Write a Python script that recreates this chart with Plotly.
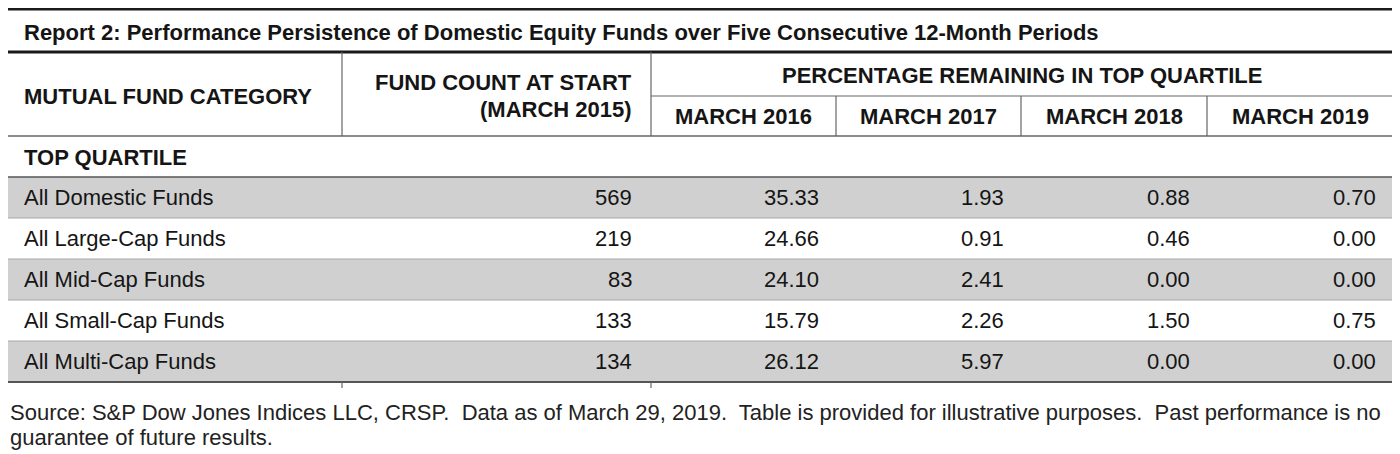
import plotly.graph_objects as GO

# table contents
title_text = "Report 2: Performance Persistence of Domestic Equity Funds over Five Consecutive 12-Month Periods"
categories = ["All Domestic Funds", "All Large-Cap Funds", "All Mid-Cap Funds",
              "All Small-Cap Funds", "All Multi-Cap Funds"]
fund_count = [569, 219, 83, 133, 134]
pct_2016 = [35.33, 24.66, 24.10, 15.79, 26.12]
pct_2017 = [1.93, 0.91, 2.41, 2.26, 5.97]
pct_2018 = [0.88, 0.46, 0.00, 1.50, 0.00]
pct_2019 = [0.70, 0.00, 0.00, 0.75, 0.00]
period_labels = ["MARCH 2016", "MARCH 2017", "MARCH 2018", "MARCH 2019"]
source_lines = [
    "Source: S&P Dow Jones Indices LLC, CRSP.  Data as of March 29, 2019.  Table is provided for illustrative purposes.  Past performance is no",
    "guarantee of future results.",
]

W, H = 1400, 454
BODY_MARGIN = 8  # default page margin around the plot div
FONT = "Liberation Sans, Arial, sans-serif"
FS = 22
INK = "#151515"
GRAY = "#d0d0d0"

# layout grid (page pixels)
col_edges = [8, 342, 651, 836, 1021, 1207, 1393]
left, right = col_edges[0], col_edges[-1]
pad = 15
row_top = 177
row_h = 41


def main():
  fig = GO.Figure()
  shapes = []
  notes = []

  def line(x0, y0, x1, y1, color, width):
    shapes.append(dict(type="line", xref="x", yref="y", x0=x0, y0=y0,
                       x1=x1, y1=y1, line=dict(color=color, width=width)))

  def text(x, y, s, anchor="left", bold=False, size=FS, color=INK):
    notes.append(dict(x=x, y=y, xref="x", yref="y", text=s, showarrow=False,
                      xanchor=anchor, yanchor="middle",
                      font=dict(family=FONT, size=size, color=color,
                                weight="bold" if bold else "normal")))

  # shaded rows
  for i in range(len(categories)):
    if i % 2 == 0:
      shapes.append(dict(type="rect", xref="x", yref="y", layer="below",
                         x0=left, x1=right, y0=row_top + i * row_h,
                         y1=row_top + (i + 1) * row_h,
                         fillcolor=GRAY, line=dict(width=0)))
  for i in range(1, len(categories)):
    line(left, row_top + i * row_h, right, row_top + i * row_h, "#a8a8a8", 1)

  # rules
  line(left, 9, right, 9, "#1a1a1a", 3)
  line(left, 52, right, 52, "#1a1a1a", 3)
  line(col_edges[2], 96, right, 96, "#666666", 1.2)
  line(left, 136, right, 136, "#666666", 1.5)
  line(left, row_top, right, row_top, "#555555", 1.5)
  bottom = row_top + len(categories) * row_h
  line(left, bottom, right, bottom, "#555555", 2)
  for x in col_edges[1:3]:
    line(x, 52, x, 136, "#666666", 1.2)
    line(x, bottom, x, bottom + 6, "#666666", 1.2)
  for x in col_edges[3:6]:
    line(x, 96, x, 136, "#666666", 1.2)

  # title and header
  text(22, 32, title_text, bold=True)
  text(22, 96, "MUTUAL FUND CATEGORY", bold=True)
  text(col_edges[2] - 17, 82, "FUND COUNT AT START", anchor="right", bold=True)
  text(col_edges[2] - 17, 109, "(MARCH 2015)", anchor="right", bold=True)
  text((col_edges[2] + right) / 2, 75, "PERCENTAGE REMAINING IN TOP QUARTILE",
       anchor="center", bold=True)
  for j, lab in enumerate(period_labels):
    text((col_edges[2 + j] + col_edges[3 + j]) / 2, 116, lab,
         anchor="center", bold=True)
  text(22, 157, "TOP QUARTILE", bold=True)

  # body
  series = [pct_2016, pct_2017, pct_2018, pct_2019]
  for i, cat in enumerate(categories):
    yc = row_top + (i + 0.5) * row_h
    text(22, yc, cat)
    text(col_edges[2] - 17, yc, str(fund_count[i]), anchor="right")
    for j, vals in enumerate(series):
      text(col_edges[3 + j] - pad, yc, f"{vals[i]:.2f}", anchor="right")

  for k, s in enumerate(source_lines):
    text(left, 412 + k * 25, s, color="#222222")

  # axes map straight onto page pixels (plot div sits inside the page margin)
  fig.update_layout(
      width=W - BODY_MARGIN, height=H - BODY_MARGIN,
      margin=dict(l=0, r=0, t=0, b=0),
      paper_bgcolor="white", plot_bgcolor="white",
      xaxis=dict(range=[BODY_MARGIN, W], visible=False, fixedrange=True),
      yaxis=dict(range=[H, BODY_MARGIN], visible=False, fixedrange=True),
      shapes=shapes, annotations=notes, showlegend=False,
  )
  fig.write_html("out.html")


if __name__ == "__main__":
  main()
